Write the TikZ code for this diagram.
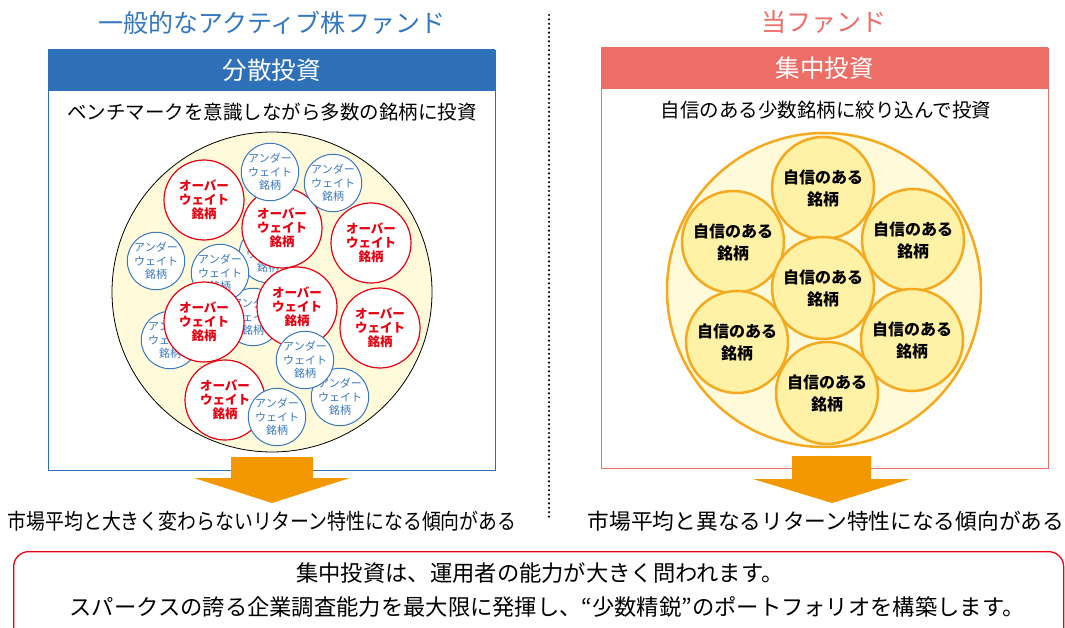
\documentclass[tikz,border=0pt]{standalone}
\usepackage{fontspec}
\setmainfont{Noto Sans CJK JP}
\definecolor{hdrblue}{HTML}{2F71B8}
\definecolor{ttlblue}{HTML}{3478C0}
\definecolor{salmon}{HTML}{EC6E66}
\definecolor{ovred}{HTML}{E60012}
\definecolor{unblue}{HTML}{3A78C0}
\definecolor{arroworange}{HTML}{F39800}
\definecolor{ringorange}{HTML}{F5A91E}
\definecolor{paleyellow}{HTML}{FFFADA}
\definecolor{coinyellow}{HTML}{FFF2A6}
\tikzset{
  titletext/.style={font=\fontsize{25}{28}\selectfont, inner sep=0pt},
  headbox/.style={minimum width=447pt, minimum height=42pt, anchor=north west, inner sep=0pt, text=white, font=\fontsize{24.5}{28}\selectfont},
  framebox/.style={minimum width=447pt, minimum height=420pt, anchor=north west, inner sep=0pt},
  subtext/.style={font=\fontsize{19.5}{22}\selectfont, inner sep=0pt},
  overc/.style={circle, draw=ovred, fill=white, line width=1.2pt, minimum size=80pt, inner sep=0pt, align=center, text=ovred, font=\fontsize{12.5}{14}\selectfont\bfseries},
  underc/.style={circle, draw=unblue, fill=white, line width=1pt, minimum size=56pt, inner sep=0pt, align=center, text=unblue, font=\fontsize{11}{13.5}\selectfont},
  stockc/.style={circle, draw=ringorange, fill=coinyellow, line width=2.5pt, minimum size=102pt, inner sep=0pt, align=center, text=black, font=\fontsize{16}{22}\selectfont\bfseries},
  concl/.style={font=\fontsize{21.7}{24}\selectfont, inner sep=0pt},
  msgtext/.style={font=\fontsize{22.3}{26}\selectfont, inner sep=0pt},
  bigarrow/.style={fill=arroworange},
}
\begin{document}
\begin{tikzpicture}[x=1pt,y=-1pt]
\useasboundingbox (0,0) rectangle (1065,628);

% ---------- left panel ----------
\node[titletext, text=ttlblue] (ltitle) at (272,23) {一般的なアクティブ株ファンド};
\node[framebox, draw=hdrblue, line width=1pt] (lframe) at (48,50) {};
\node[headbox, fill=hdrblue] (lhead) at (48,49) {分散投資};
\node[subtext] (lsub) at (272,112) {ベンチマークを意識しながら多数の銘柄に投資};
\node[circle, draw=black, fill=paleyellow, line width=0.8pt, minimum size=320pt] (lpool) at (272,292) {};

\node[underc] (ue) at (268,254) {アンダー\\ウェイト\\銘柄};
\node[underc] (uf) at (253,317) {アンダー\\ウェイト\\銘柄};
\node[underc] (ug) at (170,340) {アンダー\\ウェイト\\銘柄};
\node[overc] (o2) at (282,228) {オーバー\\ウェイト\\銘柄};
\node[underc] (ud) at (220,273) {アンダー\\ウェイト\\銘柄};
\node[underc] (ua) at (270,172) {アンダー\\ウェイト\\銘柄};
\node[underc] (ub) at (333,183) {アンダー\\ウェイト\\銘柄};
\node[underc] (uc) at (156,261) {アンダー\\ウェイト\\銘柄};
\node[overc] (o3) at (371,243) {オーバー\\ウェイト\\銘柄};
\node[overc] (o1) at (204,200) {オーバー\\ウェイト\\銘柄};
\node[overc] (o4) at (204,322) {オーバー\\ウェイト\\銘柄};
\node[overc] (o5) at (297,307) {オーバー\\ウェイト\\銘柄};
\node[overc] (o6) at (380,328) {オーバー\\ウェイト\\銘柄};
\node[underc] (ui) at (340,397) {アンダー\\ウェイト\\銘柄};
\node[underc] (uh) at (305,360) {アンダー\\ウェイト\\銘柄};
\node[overc] (o7) at (225,400) {オーバー\\ウェイト\\銘柄};
\node[underc] (uj) at (277,417) {アンダー\\ウェイト\\銘柄};

\fill[bigarrow] (231,457) -- (313,457) -- (313,478) -- (350,478) -- (272,503) -- (194,478) -- (231,478) -- cycle;
\node[concl] (lconcl) at (262,521) {\scalebox{0.87}[1]{市場平均と大きく変わらないリターン特性になる傾向がある}};

% ---------- separator ----------
\coordinate (septop) at (549,15);
\coordinate (sepbot) at (549,520);
\draw[line width=2.4pt, line cap=round, dash pattern=on 0pt off 4.4pt] (septop) -- (sepbot);

% ---------- right panel ----------
\node[titletext, text=salmon] (rtitle) at (824,22) {当ファンド};
\node[framebox, draw=salmon, line width=1.3pt] (rframe) at (601,48) {};
\node[headbox, fill=salmon] (rhead) at (601,47) {集中投資};
\node[subtext] (rsub) at (826,110) {自信のある少数銘柄に絞り込んで投資};
\node[circle, draw=ringorange, fill=paleyellow, line width=2.5pt, minimum size=314pt] (rpool) at (824,290) {};

\node[stockc] (s1) at (823,188) {自信のある\\銘柄};
\node[stockc] (s2) at (733,242) {自信のある\\銘柄};
\node[stockc] (s3) at (913,240) {自信のある\\銘柄};
\node[stockc] (s4) at (823,288) {自信のある\\銘柄};
\node[stockc] (s5) at (737,342) {自信のある\\銘柄};
\node[stockc] (s6) at (912,340) {自信のある\\銘柄};
\node[stockc] (s7) at (827,393) {自信のある\\銘柄};

\fill[bigarrow] (792,456) -- (871,456) -- (871,479) -- (910,479) -- (832,503) -- (753,479) -- (792,479) -- cycle;
\node[concl] (rconcl) at (826,521) {市場平均と異なるリターン特性になる傾向がある};

% ---------- bottom message ----------
\node[draw=ovred, line width=1.3pt, rounded corners=15pt, minimum width=1050pt, minimum height=110pt, anchor=north west, inner sep=0pt] (msgbox) at (13,551) {};
\node[msgtext] (msg1) at (540,573) {集中投資は、運用者の能力が大きく問われます。};
\node[msgtext] (msg2) at (547,607) {スパークスの誇る企業調査能力を最大限に発揮し、“少数精鋭”のポートフォリオを構築します。};
\end{tikzpicture}
\end{document}
